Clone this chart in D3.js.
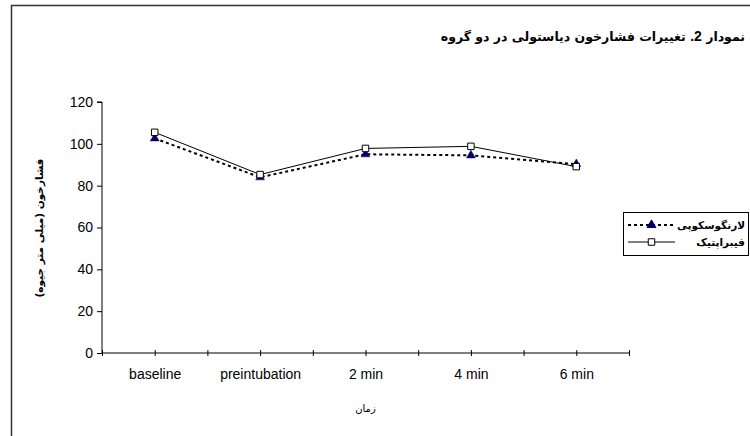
<!DOCTYPE html>
<html>
<head>
<meta charset="utf-8">
<script src="https://cdn.jsdelivr.net/npm/d3@7"></script>
<style>
  html, body { margin: 0; padding: 0; background: #fff; }
  svg { display: block; font-family: "Liberation Sans", Arial, "DejaVu Sans", sans-serif; }
</style>
</head>
<body>
<svg id="chart" width="750" height="436"></svg>
<script>
// Time points on the x axis
const categories = ["baseline", "preintubation", "2 min", "4 min", "6 min"];
// Diastolic blood pressure (mmHg) per group
const laryngoscopy = [102.6, 84.0, 95.0, 94.5, 90.3];
const fiberoptic = [105.5, 85.3, 97.8, 98.8, 89.1];
const yTicks = [0, 20, 40, 60, 80, 100, 120];
const seriesNames = ["لارنگوسکوپی", "فیبراپتیک"];
const titleParts = ["نمودار ", "2.", " تغییرات فشارخون دیاستولی در دو گروه"];
const yTitle = "فشارخون (میلی متر جیوه)";
const xTitle = "زمان";

const svg = d3.select("#chart");
const persian = "'DejaVu Sans', sans-serif";

// outer frame (runs off the right and bottom edges)
svg.append("rect")
  .attr("x", 11.5).attr("y", 5.5)
  .attr("width", 800).attr("height", 500)
  .attr("fill", "none").attr("stroke", "#333").attr("stroke-width", 1.5);

const plotL = 102, plotR = 629, plotT = 102, plotB = 353;

const n = categories.length;
const x = d3.scaleLinear().domain([0, n]).range([plotL, plotR]);
const xc = i => x(i + 0.5);
const y = d3.scaleLinear().domain([0, 120]).range([plotB, plotT]);

// y axis
const yAxis = svg.append("g")
  .attr("transform", `translate(${plotL},0)`)
  .call(d3.axisLeft(y).tickValues(yTicks).tickSize(5).tickPadding(4));
yAxis.select(".domain").attr("d", `M-5,${plotT}H0V${plotB}`).attr("stroke", "#000");
yAxis.selectAll("text").attr("font-size", 14).attr("fill", "#000");

// x axis: tick marks at every half category, labels at centres
const halfSteps = d3.range(0, n + 0.01, 0.5);
const xAxis = svg.append("g")
  .attr("transform", `translate(0,${plotB})`)
  .call(d3.axisBottom(x).tickValues(halfSteps).tickSize(3).tickPadding(13)
    .tickFormat(v => (v % 1 === 0.5 ? categories[Math.floor(v)] : "")));
xAxis.select(".domain").attr("d", `M${plotL},0H${plotR}`).attr("stroke", "#000");
xAxis.selectAll(".tick line").attr("y1", -3).attr("y2", 3);
xAxis.selectAll("text").attr("font-size", 14).attr("fill", "#000");

// lines
const line = d3.line().x((d, i) => xc(i)).y(d => y(d));

svg.append("path").datum(laryngoscopy)
  .attr("d", line).attr("fill", "none")
  .attr("stroke", "#000").attr("stroke-width", 2).attr("stroke-dasharray", "3,3");

svg.append("path").datum(fiberoptic)
  .attr("d", line).attr("fill", "none")
  .attr("stroke", "#000").attr("stroke-width", 1);

const tri = d3.symbol().type(d3.symbolTriangle).size(34);
const sq = d3.symbol().type(d3.symbolSquare).size(42);

svg.append("g").selectAll("path").data(laryngoscopy).join("path")
  .attr("transform", (d, i) => `translate(${xc(i)},${y(d)})`)
  .attr("d", tri).attr("fill", "#000066").attr("stroke", "#000066").attr("stroke-width", 0.5);

svg.append("g").selectAll("path").data(fiberoptic).join("path")
  .attr("transform", (d, i) => `translate(${xc(i)},${y(d)})`)
  .attr("d", sq).attr("fill", "#fff").attr("stroke", "#000").attr("stroke-width", 1);

// title, right-to-left, ending at the right margin
const title = svg.append("text")
  .attr("x", 745).attr("y", 41)
  .attr("direction", "rtl")
  .attr("text-anchor", "start")
  .attr("font-family", persian)
  .attr("font-weight", "bold").attr("font-size", 12.5);
titleParts.forEach((p, i) => {
  const ts = title.append("tspan").text(p);
  if (i === 1) ts.attr("font-family", "'Liberation Sans', Arial, sans-serif").attr("font-size", 14);
});

// y axis title
svg.append("text")
  .attr("transform", `translate(43,228) rotate(-90)`)
  .attr("text-anchor", "middle")
  .attr("font-family", persian)
  .attr("font-weight", "bold").attr("font-size", 10.5)
  .text(yTitle);

// x axis title
svg.append("text")
  .attr("x", xc(2)).attr("y", 412)
  .attr("text-anchor", "middle")
  .attr("font-family", persian)
  .attr("font-size", 10)
  .text(xTitle);

// legend
const lg = svg.append("g");
const lgLeft = 623, lgRight = 748, lgTop = 212, lgBottom = 255;
lg.append("rect")
  .attr("x", lgLeft + 0.5).attr("y", lgTop + 0.5)
  .attr("width", lgRight - lgLeft).attr("height", lgBottom - lgTop)
  .attr("fill", "#fff").attr("stroke", "#000").attr("stroke-width", 1);

const rowY = [225, 242];
const sampleX0 = 628, sampleX1 = 675;
rowY.forEach((ry, k) => {
  lg.append("line")
    .attr("x1", sampleX0).attr("x2", sampleX1).attr("y1", ry).attr("y2", ry)
    .attr("stroke", "#000")
    .attr("stroke-width", k === 0 ? 2 : 1)
    .attr("stroke-dasharray", k === 0 ? "3,3" : null);
  lg.append("path")
    .attr("transform", `translate(${(sampleX0 + sampleX1) / 2},${ry})`)
    .attr("d", k === 0 ? tri : sq)
    .attr("fill", k === 0 ? "#000066" : "#fff")
    .attr("stroke", k === 0 ? "#000066" : "#000");
  lg.append("text")
    .attr("x", 745).attr("y", ry).attr("dy", "0.35em")
    .attr("text-anchor", "end")
    .attr("font-family", persian)
    .attr("font-weight", "bold").attr("font-size", 10.5)
    .text(seriesNames[k]);
});
</script>
</body>
</html>
